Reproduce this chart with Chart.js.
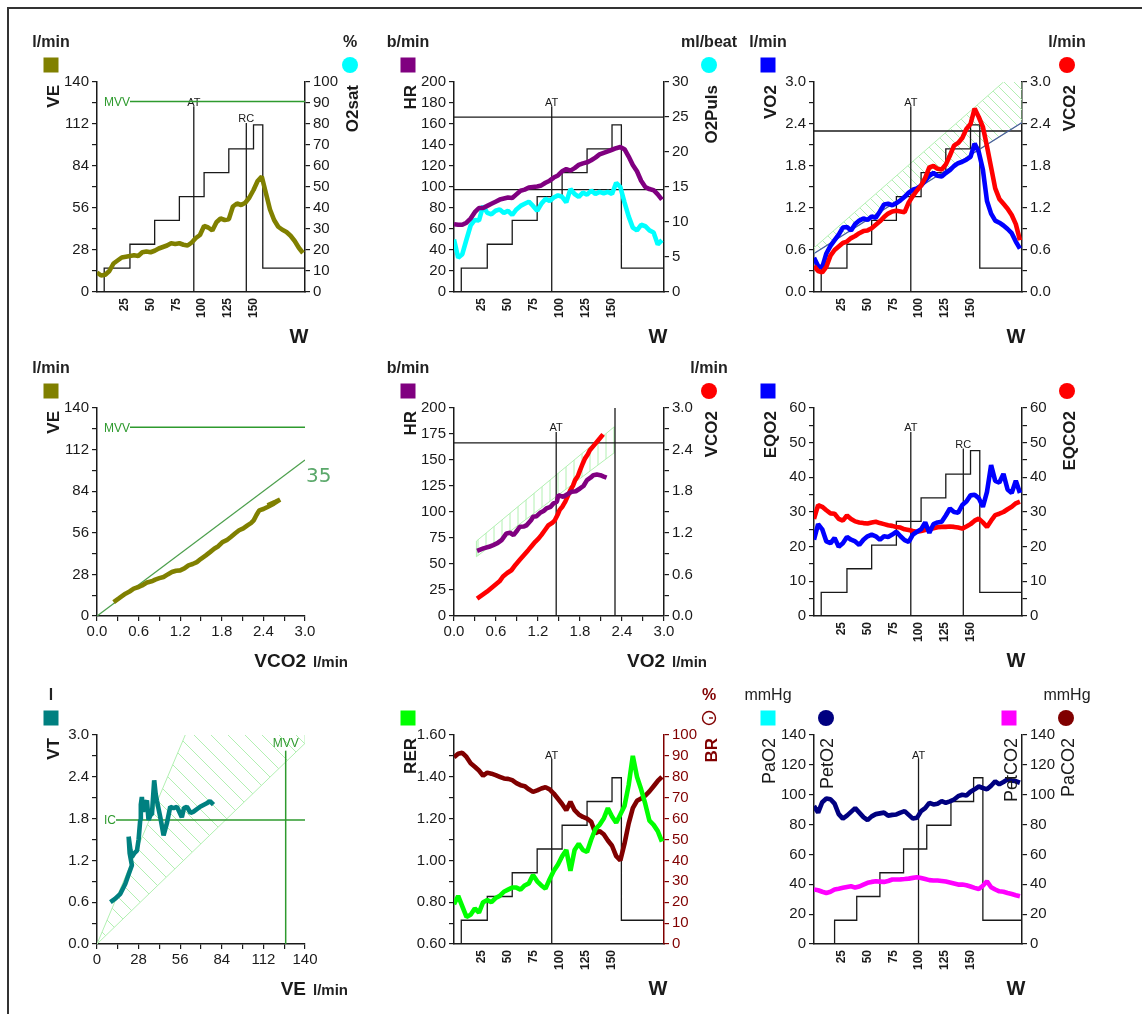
<!DOCTYPE html>
<html>
<head>
<meta charset="utf-8">
<script src="https://cdn.jsdelivr.net/npm/chart.js@4.4.0/dist/chart.umd.min.js"></script>
<style>
  html, body { margin: 0; padding: 0; background: #fff; }
  body { width: 1142px; height: 1014px; position: relative; overflow: hidden; }
  #frame { position: absolute; left: 7px; top: 7px; width: 1140px; height: 1010px;
           border-top: 2px solid #333; border-left: 2px solid #333; }
  canvas { position: absolute; }
</style>
</head>
<body>
<div id="frame"></div>
<script>
const FONT = "'Liberation Sans', Arial, sans-serif";
const NARROW = "'Liberation Sans Narrow', 'Arial Narrow', 'Liberation Sans', sans-serif";

// time axis, plotted as W
const timeW = [-2, 2, 6, 10, 14, 18, 22, 26, 30, 34,
  38, 42, 46, 50, 54, 58, 62, 66, 70, 74,
  78, 82, 86, 90, 94, 98, 102, 106, 110, 114,
  118, 122, 126, 130, 134, 138, 142, 146, 150, 154,
  158, 162, 166, 170, 174, 178, 182, 186, 190, 194,
  198];
const wTicks = [25, 50, 75, 100, 125, 150];

// workload protocol steps
const stepW = [5, 30, 54, 78, 102, 126, 150, 159];
const stepW9 = [18, 39.5, 62, 85, 107.5, 131, 153, 162];
const stepLoad = [25, 50, 75, 100, 125, 150, 175, 25];

// markers
const atW = 92, rcW = 143, atW9 = 99.5;
const mvv = 127, ic = 1.78;
const hrPred = 166.5, hrMark = 97.5;
const vo2Pred = 2.3, atVO2 = 1.46;

const veVals = [13, 11, 11.5, 14, 19, 21, 23, 23.5, 24, 24.5,
  24, 26.5, 27, 26.5, 27.5, 29, 30, 31, 32.5, 32,
  32.5, 31.5, 31, 33, 36, 38, 44, 43, 41, 46.5,
  49, 48, 48.5, 57, 59, 58, 59.5, 63, 68, 74,
  77, 66, 55, 48, 43.5, 41.5, 40, 37.5, 34, 29.5,
  26];
const hrVals = [64.6, 64, 64, 66, 70, 76, 80, 80, 82, 84,
  86, 88, 89, 90, 89.5, 93, 96.5, 97.5, 99.5, 100,
  100.5, 101.5, 104, 106, 109, 111, 115, 117, 115.6, 118,
  121, 122.5, 123.5, 125.5, 128, 131, 132.5, 134, 135.5, 137,
  138, 136, 129, 121, 115, 106, 100, 98, 97, 93,
  88];
const o2pulsVals = [7.5, 4.9, 5.4, 7.5, 9.5, 10.3, 10.2, 12.3, 11.3, 11.1,
  11.6, 11.8, 11.3, 11.6, 11, 11.8, 12.3, 12.6, 12.9, 12.3,
  11.6, 12.6, 13.3, 13, 13.5, 13.8, 13.6, 12.8, 14.7, 14,
  13.6, 14.2, 13.9, 14.5, 14, 14.3, 14.1, 14.3, 14, 15.6,
  15, 12.8, 10.8, 9.2, 8.8, 9.6, 9.4, 8.8, 8.5, 6.8,
  7.4];
const vo2Vals = [0.49, 0.37, 0.35, 0.55, 0.66, 0.74, 0.82, 0.92, 0.93, 0.88,
  0.97, 1.02, 1.05, 1.03, 1.08, 1.06, 1.15, 1.25, 1.26, 1.24,
  1.27, 1.31, 1.36, 1.42, 1.46, 1.48, 1.52, 1.59, 1.66, 1.70,
  1.66, 1.65, 1.70, 1.74, 1.80, 1.84, 1.86, 1.89, 1.93, 2.12,
  2.00, 1.75, 1.30, 1.12, 1.02, 0.99, 0.95, 0.90, 0.84, 0.72,
  0.62];
const vco2Vals = [0.37, 0.30, 0.28, 0.36, 0.52, 0.60, 0.65, 0.70, 0.72, 0.77,
  0.80, 0.84, 0.87, 0.88, 0.91, 0.96, 1.01, 1.07, 1.12, 1.15,
  1.16, 1.15, 1.14, 1.28, 1.37, 1.45, 1.52, 1.63, 1.78, 1.80,
  1.76, 1.75, 1.82, 1.95, 2.09, 2.13, 2.20, 2.33, 2.40, 2.62,
  2.50, 2.36, 2.08, 1.78, 1.48, 1.33, 1.26, 1.19, 1.10, 0.97,
  0.74];
const vo2RefX = [-2, 200];
const vo2RefY = [0.55, 2.42];
const eqo2Vals = [22, 26.5, 25, 21.5, 21, 22.5, 20, 21, 22.8, 22,
  21.5, 20.5, 22, 23, 23.5, 23, 22, 23, 22.8, 23.5,
  24.3, 23, 21.9, 21.4, 23.5, 24.3, 25, 27, 24, 26.5,
  27, 27.2, 29, 31, 30, 29.8, 32, 33, 34.8, 35,
  34, 31.5, 35.8, 43.5, 39, 38.5, 41, 36.5, 35.5, 39,
  35.5];
const eqco2Vals = [28, 32, 31.5, 30.5, 29.6, 29.5, 28, 27.5, 29, 28,
  27.3, 27, 26.8, 26.7, 27, 27.2, 26.8, 26.5, 26.2, 26,
  25.7, 25.5, 25, 24.8, 24.5, 24.3, 24.5, 24.8, 25, 25.3,
  25.6, 25.7, 25.7, 25.8, 25.7, 25.5, 25.2, 25.8, 26.5, 27.5,
  28.1, 27, 25.7, 27.5, 29.1, 29.5, 30, 30.8, 31.5, 32.5,
  33];
const rerVals = [0.79, 0.83, 0.78, 0.73, 0.74, 0.77, 0.75, 0.80, 0.81, 0.80,
  0.82, 0.83, 0.85, 0.86, 0.87, 0.87, 0.86, 0.88, 0.89, 0.93,
  0.90, 0.88, 0.865, 0.91, 0.95, 0.98, 1.02, 1.05, 0.95, 1.05,
  1.08, 1.05, 1.04, 1.10, 1.15, 1.17, 1.20, 1.25, 1.21, 1.18,
  1.22, 1.26, 1.36, 1.50, 1.40, 1.34, 1.27, 1.19, 1.17, 1.14,
  1.09];
const brVals = [89.3, 91, 91.5, 89.5, 86.5, 84.8, 83, 80.5, 82, 81.5,
  80.8, 80, 79.2, 79, 78.4, 77, 76, 75.5, 74, 72.8,
  73.5, 74.4, 75, 74, 72, 69.5, 67, 64, 68, 64,
  62, 60.8, 60, 58.5, 53, 54, 52.5, 49.5, 47, 42,
  40, 48, 57.6, 65, 68.5, 69.6, 71, 73, 75.5, 78,
  80];
const peto2Vals = [92.4, 88, 95, 97.5, 97, 94, 87, 84, 86, 88.5,
  91, 88, 85, 83, 85.5, 87, 87.5, 88, 86, 86.5,
  86.8, 88, 89, 86.5, 84, 84.5, 89, 91, 94.6, 93.5,
  94, 95.7, 94.6, 95.5, 96.8, 99, 100, 99.5, 102, 103.6,
  105.5, 104.5, 103.6, 106, 109, 107, 108.5, 110.3, 109.5, 109,
  108];
const petco2Vals = [36.5, 36, 35, 34.2, 35, 36.5, 37, 37.6, 38.2, 38.7,
  37.8, 38.5, 39.8, 41, 41.6, 42, 41.8, 41.6, 42.2, 43.2,
  43.2, 43.3, 43.5, 43.8, 44.3, 44.7, 44.2, 43.5, 42.8, 42.5,
  42.5, 42.2, 41.8, 41.2, 40.5, 39.8, 39.8, 39.3, 38.5, 37.6,
  36.8, 39, 42, 38, 36.5, 35.3, 35, 34.2, 33.5, 32.7,
  32];

// VE vs VCO2
const vco2X4 = [0.24, 0.31, 0.41, 0.47, 0.53, 0.60, 0.65, 0.72, 0.75, 0.80,
  0.84, 0.90, 0.96, 1.02, 1.08, 1.14, 1.20, 1.26, 1.32, 1.38,
  1.44, 1.50, 1.57, 1.63, 1.69, 1.75, 1.81, 1.87, 1.93, 1.99,
  2.05, 2.11, 2.17, 2.22, 2.26, 2.30, 2.34, 2.40, 2.46, 2.55,
  2.64, 2.58, 2.46];
const ve4 = [9.4, 11.7, 15, 16.5, 18.4, 19.5, 20.6, 22.5, 22.9, 23.5,
  24.5, 25.5, 26.3, 28, 29.6, 30.5, 30.7, 32, 34.1, 35,
  36.3, 38.5, 40.8, 43, 45.3, 47, 49.8, 51, 53.2, 55.5,
  57.7, 59, 61, 62.5, 64.4, 68, 71.1, 72, 73.4, 75.6,
  78.3, 77, 74.5];
const line35X = [0, 3.0];
const line35Y = [0, 105];

// HR and VCO2 vs VO2
const vo2X5hr = [0.33, 0.42, 0.50, 0.56, 0.62, 0.68, 0.75, 0.80, 0.85, 0.90,
  0.94, 1.00, 1.04, 1.10, 1.13, 1.18, 1.23, 1.28, 1.32, 1.38,
  1.42, 1.47, 1.49, 1.56, 1.62, 1.68, 1.74, 1.80, 1.85, 1.90,
  1.95, 1.99, 2.04, 2.09, 2.14, 2.18];
const hr5 = [62.7, 65, 66.5, 68.2, 70, 73, 79.4, 80, 77.8, 82,
  85.8, 86, 87.4, 92, 95.4, 96, 99.2, 101, 103.4, 105,
  108.2, 110, 116.2, 114.6, 117, 119.4, 120, 122.6, 125, 130.6,
  133, 135.4, 136, 135.4, 134, 133];
const vo2X5co2 = [0.33, 0.40, 0.47, 0.53, 0.59, 0.65, 0.70, 0.76, 0.82, 0.88,
  0.94, 1.00, 1.06, 1.11, 1.16, 1.21, 1.25, 1.30, 1.35, 1.40,
  1.44, 1.48, 1.51, 1.55, 1.59, 1.63, 1.66, 1.70, 1.73, 1.77,
  1.80, 1.84, 1.87, 1.91, 1.94, 1.99, 2.04, 2.09, 2.13];
const vco2Y5 = [0.25, 0.30, 0.35, 0.40, 0.45, 0.50, 0.57, 0.62, 0.66, 0.74,
  0.81, 0.88, 0.95, 1.01, 1.07, 1.12, 1.17, 1.24, 1.31, 1.34,
  1.38, 1.46, 1.53, 1.58, 1.65, 1.74, 1.81, 1.88, 1.96, 2.02,
  2.10, 2.20, 2.27, 2.33, 2.39, 2.45, 2.51, 2.57, 2.62];

// VT vs VE
const veX7 = [9, 12.3, 15.7, 19, 21.3, 23.5, 22, 21.3, 22.5, 23.5,
  25, 26.9, 28, 29.1, 29.5, 30.2, 31, 31.8, 33.6, 34.7,
  36, 37, 38.5, 39.5, 40.3, 42.6, 44.8, 47, 49.3, 51.5,
  53.8, 57.1, 58.5, 60.5, 63, 65, 69.4, 73.9, 76, 78.4];
const vt7 = [0.6, 0.65, 0.72, 0.86, 1.0, 1.13, 1.3, 1.54, 1.35, 1.25,
  1.30, 1.34, 1.5, 1.78, 2.0, 2.11, 1.9, 1.97, 2.06, 1.78,
  1.85, 1.87, 2.35, 2.15, 2.06, 1.82, 1.56, 1.73, 1.97, 1.95,
  1.97, 1.82, 1.95, 1.97, 1.88, 1.9, 1.97, 2.02, 2.05, 2.0];

// normal-range bands (hatched)
const band3 = [[182, 3.0], [-2, 0.63], [-2, 0.55], [200, 2.42], [200, 3.0]];
const band5 = [[0.32, 57], [0.32, 72], [2.29, 182], [2.29, 157]];
const band7 = [[59.4, 3.0], [0, 0], [140, 2.88], [140, 3.0]];

const OLIVE = '#808000', PURPLE = '#800080', CYAN = '#00ffff', BLUE = '#0000ff',
  RED = '#ff0000', TEAL = '#008080', LIME = '#00ff00', MAROON = '#800000',
  NAVY = '#000080', MAGENTA = '#ff00ff', GREEN = '#2e9a2e', HATCH = '#b2f0b2', INK = '#1a1a1a';

const COLS = [{ x: 10, w: 370, l: 97, r: 305 }, { x: 380, w: 362, l: 454, r: 664 }, { x: 742, w: 400, l: 814, r: 1022 }];
const ROWS = [{ y: 10, h: 345, t: 82, b: 292 }, { y: 340, h: 335, t: 408, b: 616 }, { y: 670, h: 344, t: 735, b: 944 }];

function series(xs, ys, color, axis, width) {
  return {
    data: xs.map((x, i) => ({ x, y: ys[i] })),
    borderColor: color, backgroundColor: color, borderWidth: width || 4.6,
    borderJoinStyle: 'bevel',
    showLine: true, pointRadius: 0, yAxisID: axis || 'y', fill: false,
  };
}

function steps(xs, xEnd) {
  const pts = [{ x: xs[0], y: 0 }];
  let prev = 0;
  xs.forEach((x, i) => {
    pts.push({ x, y: prev });
    pts.push({ x, y: stepLoad[i] });
    prev = stepLoad[i];
  });
  pts.push({ x: xEnd, y: prev });
  return { data: pts, borderColor: INK, borderWidth: 1.3, showLine: true, pointRadius: 0, yAxisID: 'load' };
}

function yAxis(pos, min, max, step, every, dec, color) {
  color = color || INK;
  return {
    type: 'linear', position: pos, min, max,
    ticks: {
      stepSize: step, color, padding: 3, autoSkip: false,
      font: { family: NARROW, size: 15 },
      callback: v => (Math.round(v / step) % every === 0 ? v.toFixed(dec) : ''),
    },
    grid: { drawOnChartArea: false, drawTicks: true, tickLength: 5, color, lineWidth: 1.2 },
    border: { display: true, color, width: 1.5 },
  };
}

function xAxis(min, max, step, every, dec) {
  return {
    type: 'linear', position: 'bottom', min, max,
    ticks: {
      stepSize: step, color: INK, padding: 2, autoSkip: false, maxRotation: 0,
      font: { family: NARROW, size: 15 },
      callback: v => (Math.round(v / step) % every === 0 ? v.toFixed(dec) : ''),
    },
    grid: { drawOnChartArea: false, drawTicks: true, tickLength: 5, color: INK, lineWidth: 1.2 },
    border: { display: true, color: INK, width: 1.5 },
  };
}

function wAxis() {
  return {
    type: 'linear', position: 'bottom', min: -2, max: 200,
    afterBuildTicks: s => { s.ticks = wTicks.map(value => ({ value })); },
    ticks: { autoSkip: false, minRotation: 90, maxRotation: 90, padding: 6, color: INK,
      font: { family: FONT, size: 12, weight: 'bold' } },
    grid: { drawOnChartArea: false, drawTicks: false },
    border: { display: true, color: INK, width: 1.5 },
  };
}

const loadAxis = () => ({ axis: 'y', type: 'linear', display: false, min: 0, max: 220 });

function makeChart(col, row, datasets, scales, draw, before) {
  const C = COLS[col], R = ROWS[row];
  const cv = document.createElement('canvas');
  cv.width = C.w; cv.height = R.h;
  cv.style.left = C.x + 'px'; cv.style.top = R.y + 'px';
  document.body.appendChild(cv);
  const hasRight = !!scales.y2;
  scales.x.afterFit = s => { s.height = R.y + R.h - R.b; };
  scales.y.afterFit = s => { s.width = C.l - C.x; };
  if (hasRight) scales.y2.afterFit = s => { s.width = C.x + C.w - C.r; };
  return new Chart(cv, {
    type: 'scatter',
    data: { datasets },
    options: {
      responsive: false, animation: false, devicePixelRatio: 1,
      layout: { padding: { top: R.t - R.y, left: 0, bottom: 0, right: hasRight ? 0 : C.x + C.w - C.r } },
      plugins: { legend: { display: false }, tooltip: { enabled: false } },
      elements: { line: { tension: 0 } },
      scales,
    },
    plugins: [{
      id: 'deco',
      beforeDatasetsDraw: c => { if (before) before(c, c.ctx, c.chartArea); },
      afterDraw: c => { if (draw) draw(c, c.ctx, c.chartArea); },
    }],
  });
}

// drawing helpers
function txt(ctx, s, x, y, font, color, align, base) {
  ctx.font = font; ctx.fillStyle = color || INK;
  ctx.textAlign = align || 'left'; ctx.textBaseline = base || 'alphabetic';
  ctx.fillText(s, x, y);
}
function vtxt(ctx, s, x, y, font, color) {
  ctx.save(); ctx.translate(x, y); ctx.rotate(-Math.PI / 2);
  ctx.font = font; ctx.fillStyle = color || INK;
  ctx.textAlign = 'right'; ctx.textBaseline = 'alphabetic';
  ctx.fillText(s, 0, 0); ctx.restore();
}
function seg(ctx, x1, y1, x2, y2, color, w) {
  ctx.save(); ctx.strokeStyle = color; ctx.lineWidth = w;
  ctx.beginPath(); ctx.moveTo(x1, y1); ctx.lineTo(x2, y2); ctx.stroke(); ctx.restore();
}
function mark(ctx, shape, cx, cy, color) {
  ctx.fillStyle = color;
  if (shape === 'sq') { ctx.fillRect(cx - 7.5, cy - 7.5, 15, 15); return; }
  ctx.beginPath(); ctx.arc(cx, cy, 8, 0, Math.PI * 2); ctx.fill();
}
const UNIT = `bold 16px ${FONT}`, TITLE = `bold 17px ${FONT}`, SMALL = `11px ${NARROW}`;

function leftHead(ctx, a, unit, shape, color, title) {
  if (unit) txt(ctx, unit, a.left - 46, a.top - 35, UNIT, '#222', 'center');
  mark(ctx, shape, a.left - 46, a.top - 17, color);
  vtxt(ctx, title, a.left - 38, a.top + 3, TITLE);
}
function rightHead(ctx, a, unit, shape, color, title, tcolor) {
  if (unit) txt(ctx, unit, a.right + 45, a.top - 35, UNIT, tcolor || '#222', 'center');
  if (shape) mark(ctx, shape, a.right + 45, a.top - 17, color);
  vtxt(ctx, title, a.right + 53, a.top + 3, TITLE, tcolor);
}
function wTitle(ctx, a) { txt(ctx, 'W', a.right - 6, a.bottom + 51, `bold 20px ${FONT}`, INK, 'center'); }
function xyTitle(ctx, a, name, unit) {
  txt(ctx, name, a.right + 1, a.bottom + 51, `bold 19px ${FONT}`, INK, 'right');
  txt(ctx, unit, a.right + 8, a.bottom + 51, `bold 15px ${FONT}`, '#222', 'left');
}
function vmark(c, xv, frac, label) {
  const a = c.chartArea, px = c.scales.x.getPixelForValue(xv);
  const top = a.bottom - frac * (a.bottom - a.top);
  seg(c.ctx, px, a.bottom, px, top, INK, 1.3);
  if (label) txt(c.ctx, label, px, top + 2, SMALL, INK, 'center', 'bottom');
}
function hmark(c, axis, yv, color, x0, w) {
  const a = c.chartArea, py = c.scales[axis].getPixelForValue(yv);
  seg(c.ctx, x0 === undefined ? a.left : x0, py, a.right, py, color || INK, w || 1.3);
  return py;
}
function labelledH(c, yv, label, gap) {
  const a = c.chartArea;
  const py = hmark(c, 'y', yv, GREEN, a.left + gap, 1.5);
  txt(c.ctx, label, a.left + 7, py + 1, `12px ${FONT}`, GREEN, 'left', 'middle');
}
function hatch(c, poly, axis, spacing, dir, strokeClosed) {
  const ctx = c.ctx, a = c.chartArea, xs = c.scales.x, ys = c.scales[axis];
  const pts = poly.map(([vx, vy]) => [xs.getPixelForValue(vx), ys.getPixelForValue(vy)]);
  ctx.save();
  ctx.beginPath(); ctx.rect(a.left, a.top, a.right - a.left, a.bottom - a.top); ctx.clip();
  ctx.strokeStyle = HATCH; ctx.lineWidth = 1;
  ctx.beginPath();
  pts.forEach(([px, py], i) => (i ? ctx.lineTo(px, py) : ctx.moveTo(px, py)));
  if (strokeClosed) ctx.closePath();
  ctx.stroke();
  ctx.beginPath();
  pts.forEach(([px, py], i) => (i ? ctx.lineTo(px, py) : ctx.moveTo(px, py)));
  ctx.closePath(); ctx.clip();
  const h = a.bottom - a.top;
  ctx.beginPath();
  if (dir === 'v') {
    for (let x = a.left; x < a.right; x += spacing) { ctx.moveTo(x, a.top); ctx.lineTo(x, a.bottom); }
  } else {
    for (let x = a.left - h; x < a.right; x += spacing) { ctx.moveTo(x, a.top); ctx.lineTo(x + h, a.bottom); }
  }
  ctx.stroke();
  ctx.restore();
}

Chart.defaults.font.family = FONT;

// 1: VE / O2sat vs W
makeChart(0, 0,
  [series(timeW, veVals, OLIVE), steps(stepW, 200)],
  { x: wAxis(), y: yAxis('left', 0, 140, 14, 2, 0), y2: yAxis('right', 0, 100, 10, 1, 0), load: loadAxis() },
  (c, ctx, a) => {
    leftHead(ctx, a, 'l/min', 'sq', OLIVE, 'VE');
    rightHead(ctx, a, '%', 'dot', CYAN, 'O2sat');
    wTitle(ctx, a);
  },
  c => {
    vmark(c, atW, 0.885, 'AT');
    vmark(c, rcW, 0.805, 'RC');
    labelledH(c, mvv, 'MVV', 33);
  });

// 2: HR / O2 pulse vs W
makeChart(1, 0,
  [series(timeW, hrVals, PURPLE), series(timeW, o2pulsVals, CYAN, 'y2'), steps(stepW, 200)],
  { x: wAxis(), y: yAxis('left', 0, 200, 20, 1, 0), y2: yAxis('right', 0, 30, 5, 1, 0), load: loadAxis() },
  (c, ctx, a) => {
    leftHead(ctx, a, 'b/min', 'sq', PURPLE, 'HR');
    rightHead(ctx, a, 'ml/beat', 'dot', CYAN, 'O2Puls');
    wTitle(ctx, a);
  },
  c => {
    hmark(c, 'y', hrPred);
    hmark(c, 'y', hrMark);
    vmark(c, atW, 0.885, 'AT');
  });

// 3: VO2 / VCO2 vs W
makeChart(2, 0,
  [series(timeW, vco2Vals, RED, 'y2'), series(timeW, vo2Vals, BLUE),
   series(vo2RefX, vo2RefY, '#4a5c9e', 'y', 1.2), steps(stepW, 200)],
  { x: wAxis(), y: yAxis('left', 0, 3, 0.3, 2, 1), y2: yAxis('right', 0, 3, 0.3, 2, 1), load: loadAxis() },
  (c, ctx, a) => {
    leftHead(ctx, a, 'l/min', 'sq', BLUE, 'VO2');
    rightHead(ctx, a, 'l/min', 'dot', RED, 'VCO2');
    wTitle(ctx, a);
  },
  c => {
    hatch(c, band3, 'y', 10, 'd', false);
    hmark(c, 'y', vo2Pred);
    vmark(c, atW, 0.885, 'AT');
  });

// 4: VE vs VCO2
makeChart(0, 1,
  [series(vco2X4, ve4, OLIVE), series(line35X, line35Y, '#4c9f4c', 'y', 1.3)],
  { x: xAxis(0, 3, 0.3, 2, 1), y: yAxis('left', 0, 140, 14, 2, 0) },
  (c, ctx, a) => {
    leftHead(ctx, a, 'l/min', 'sq', OLIVE, 'VE');
    const px = c.scales.x.getPixelForValue(line35X[1]), py = c.scales.y.getPixelForValue(line35Y[1]);
    txt(ctx, '35', px + 1, py + 22, "20px 'DejaVu Sans', sans-serif", '#5aa86a', 'left');
    xyTitle(ctx, a, 'VCO2', 'l/min');
  },
  c => { labelledH(c, mvv, 'MVV', 33); });

// 5: HR / VCO2 vs VO2
makeChart(1, 1,
  [series(vo2X5hr, hr5, PURPLE), series(vo2X5co2, vco2Y5, RED, 'y2')],
  { x: xAxis(0, 3, 0.3, 2, 1), y: yAxis('left', 0, 200, 25, 1, 0), y2: yAxis('right', 0, 3, 0.3, 2, 1) },
  (c, ctx, a) => {
    leftHead(ctx, a, 'b/min', 'sq', PURPLE, 'HR');
    rightHead(ctx, a, 'l/min', 'dot', RED, 'VCO2');
    xyTitle(ctx, a, 'VO2', 'l/min');
  },
  c => {
    hatch(c, band5, 'y', 8, 'v', true);
    hmark(c, 'y', hrPred);
    vmark(c, vo2Pred, 1);
    vmark(c, atVO2, 0.885, 'AT');
  });

// 6: EQO2 / EQCO2 vs W
makeChart(2, 1,
  [series(timeW, eqo2Vals, BLUE), series(timeW, eqco2Vals, RED, 'y2'), steps(stepW, 200)],
  { x: wAxis(), y: yAxis('left', 0, 60, 5, 2, 0), y2: yAxis('right', 0, 60, 5, 2, 0), load: loadAxis() },
  (c, ctx, a) => {
    leftHead(ctx, a, null, 'sq', BLUE, 'EQO2');
    rightHead(ctx, a, null, 'dot', RED, 'EQCO2');
    wTitle(ctx, a);
  },
  c => {
    vmark(c, atW, 0.885, 'AT');
    vmark(c, rcW, 0.805, 'RC');
  });

// 7: VT vs VE
makeChart(0, 2,
  [series(veX7, vt7, TEAL)],
  { x: xAxis(0, 140, 14, 2, 0), y: yAxis('left', 0, 3, 0.3, 2, 1) },
  (c, ctx, a) => {
    leftHead(ctx, a, 'l', 'sq', TEAL, 'VT');
    xyTitle(ctx, a, 'VE', 'l/min');
  },
  c => {
    hatch(c, band7, 'y', 17, 'd', false);
    labelledH(c, ic, 'IC', 19);
    const a = c.chartArea, px = c.scales.x.getPixelForValue(mvv);
    const top = a.bottom - 0.925 * (a.bottom - a.top);
    seg(c.ctx, px, a.bottom, px, top, GREEN, 1.5);
    txt(c.ctx, 'MVV', px, top - 1, `12px ${FONT}`, GREEN, 'center', 'bottom');
  });

// 8: RER / BR vs W
makeChart(1, 2,
  [series(timeW, rerVals, LIME), series(timeW, brVals, MAROON, 'y2'), steps(stepW, 200)],
  { x: wAxis(), y: yAxis('left', 0.6, 1.6, 0.1, 2, 2), y2: yAxis('right', 0, 100, 10, 1, 0, MAROON), load: loadAxis() },
  (c, ctx, a) => {
    leftHead(ctx, a, null, 'sq', LIME, 'RER');
    rightHead(ctx, a, '%', null, null, 'BR', MAROON);
    const cx = a.right + 45, cy = a.top - 17;
    ctx.save(); ctx.strokeStyle = MAROON; ctx.lineWidth = 1.4;
    ctx.beginPath(); ctx.arc(cx, cy, 6.5, 0, Math.PI * 2); ctx.stroke();
    ctx.beginPath(); ctx.moveTo(cx, cy); ctx.lineTo(cx + 4, cy); ctx.stroke();
    ctx.restore();
    wTitle(ctx, a);
  },
  c => { vmark(c, atW, 0.885, 'AT'); });

// 9: PetO2 / PetCO2 vs W
makeChart(2, 2,
  [series(timeW, peto2Vals, NAVY), series(timeW, petco2Vals, MAGENTA, 'y2'), steps(stepW9, 200)],
  { x: wAxis(), y: yAxis('left', 0, 140, 20, 1, 0), y2: yAxis('right', 0, 140, 20, 1, 0), load: loadAxis() },
  (c, ctx, a) => {
    const big = `18px ${FONT}`;
    txt(ctx, 'mmHg', a.left - 46, a.top - 35, `16px ${FONT}`, '#222', 'center');
    txt(ctx, 'mmHg', a.right + 45, a.top - 35, `16px ${FONT}`, '#222', 'center');
    mark(ctx, 'sq', a.left - 46, a.top - 17, CYAN);
    mark(ctx, 'dot', a.left + 12, a.top - 17, NAVY);
    mark(ctx, 'sq', a.right - 13, a.top - 17, MAGENTA);
    mark(ctx, 'dot', a.right + 44, a.top - 17, MAROON);
    vtxt(ctx, 'PaO2', a.left - 39, a.top + 3, big);
    vtxt(ctx, 'PetO2', a.left + 19, a.top + 3, big);
    vtxt(ctx, 'PetCO2', a.right - 5, a.top + 3, big);
    vtxt(ctx, 'PaCO2', a.right + 52, a.top + 3, big);
    wTitle(ctx, a);
  },
  c => { vmark(c, atW9, 0.885, 'AT'); });
</script>
</body>
</html>
